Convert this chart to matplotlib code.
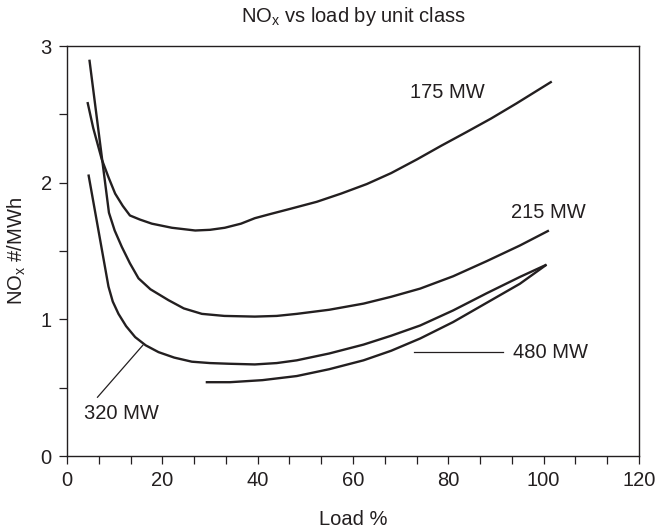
import matplotlib
matplotlib.use("Agg")
import matplotlib.pyplot as plt
from matplotlib.ticker import MultipleLocator

plt.rcParams['font.family'] = ['Liberation Sans', 'DejaVu Sans']
plt.rcParams['mathtext.fontset'] = 'custom'
plt.rcParams['mathtext.rm'] = 'Liberation Sans'
plt.rcParams['mathtext.it'] = 'Liberation Sans'

# Load (%) and NOx (#/MWh) per unit class
load_175 = [4.3, 5.5, 7.3, 8.7, 10.1, 11.7, 13.2, 15.3, 17.8, 22.0, 26.9, 30.0, 33.1, 36.5, 39.4,
            42.6, 47.0, 52.4, 57.5, 62.9, 68.0, 73.4, 78.5, 83.8, 89.0, 94.3, 98.0, 101.7]
nox_175 = [2.59, 2.40, 2.17, 2.04, 1.92, 1.83, 1.76, 1.73, 1.70, 1.67, 1.65, 1.655, 1.67, 1.70, 1.74,
           1.77, 1.81, 1.86, 1.92, 1.99, 2.07, 2.17, 2.27, 2.37, 2.47, 2.58, 2.66, 2.74]

load_215 = [4.7, 8.8, 10.0, 11.5, 13.2, 15.0, 17.5, 21.3, 24.5, 28.3, 33.0, 39.4, 44.0, 48.2, 55.0,
            62.2, 68.0, 74.1, 81.0, 88.0, 95.0, 101.1]
nox_215 = [2.90, 1.78, 1.65, 1.53, 1.41, 1.30, 1.22, 1.14, 1.08, 1.04, 1.025, 1.02, 1.025, 1.04, 1.07,
           1.115, 1.165, 1.225, 1.315, 1.425, 1.54, 1.65]

load_320 = [4.5, 8.7, 9.6, 10.8, 12.4, 14.3, 16.5, 19.2, 22.5, 26.2, 30.0, 34.0, 39.4, 44.0, 48.2,
            55.0, 62.2, 68.0, 74.1, 81.0, 88.0, 95.0, 100.6]
nox_320 = [2.06, 1.24, 1.13, 1.04, 0.95, 0.87, 0.81, 0.76, 0.72, 0.69, 0.68, 0.675, 0.67, 0.68, 0.70,
           0.75, 0.815, 0.88, 0.955, 1.065, 1.19, 1.31, 1.40]

load_480 = [29.1, 34.2, 41.0, 48.2, 55.0, 62.2, 68.0, 74.1, 81.0, 88.0, 95.0, 100.6]
nox_480 = [0.54, 0.54, 0.555, 0.585, 0.635, 0.70, 0.77, 0.86, 0.98, 1.12, 1.26, 1.40]

ink = '#231f20'

fig = plt.figure(figsize=(6.55, 5.32), dpi=100)
ax = fig.add_axes([67/655, 1-456/532, (639-67)/655, (456-46)/532])

for xs, ys in [(load_175, nox_175), (load_215, nox_215), (load_320, nox_320), (load_480, nox_480)]:
    ax.plot(xs, ys, color=ink, lw=1.7, solid_joinstyle='round', solid_capstyle='butt')

ax.set_xlim(0, 120)
ax.set_ylim(0, 3)
ax.xaxis.set_major_locator(MultipleLocator(20))
ax.xaxis.set_minor_locator(MultipleLocator(20/3))
ax.yaxis.set_major_locator(MultipleLocator(1))
ax.yaxis.set_minor_locator(MultipleLocator(0.5))
ax.tick_params(which='both', direction='out', length=6, width=0.9, color=ink,
               labelsize=14.5, labelcolor=ink, pad=5)
for s in ax.spines.values():
    s.set_color(ink)
    s.set_linewidth(1.0)

fs = 14.5
ax.text(72.0, 2.66, '175 MW', fontsize=fs, color=ink, va='center', ha='left')
ax.text(93.1, 1.78, '215 MW', fontsize=fs, color=ink, va='center', ha='left')
ax.text(93.5, 0.76, '480 MW', fontsize=fs, color=ink, va='center', ha='left')
ax.plot([72.9, 91.5], [0.76, 0.76], color=ink, lw=0.9)
ax.text(3.6, 0.31, '320 MW', fontsize=fs, color=ink, va='center', ha='left')
ax.plot([6.4, 15.9], [0.43, 0.81], color=ink, lw=0.9)

ax.set_xlabel('Load %', fontsize=fs, color=ink, labelpad=14)
ax.set_ylabel(r'NO$_{\mathregular{x}}$ #/MWh', fontsize=fs, color=ink, labelpad=9)
ax.set_title(r'NO$_{\mathregular{x}}$ vs load by unit class', fontsize=fs, color=ink, pad=17)

fig.savefig('out.png', dpi=100)
